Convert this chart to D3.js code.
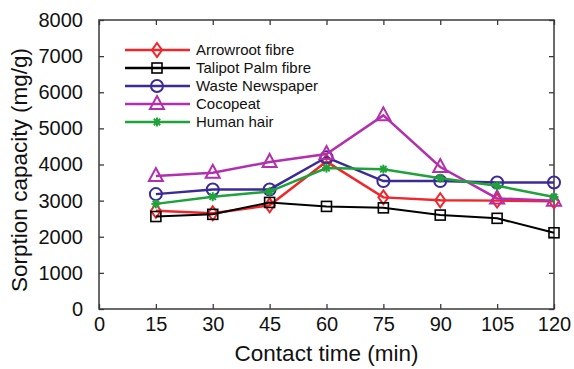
<!DOCTYPE html>
<html>
<head>
<meta charset="utf-8">
<script src="https://cdn.jsdelivr.net/npm/d3@7"></script>
<style>
  body { margin: 0; background: #fff; }
  text { font-family: Arial, "Liberation Sans", sans-serif; }
</style>
</head>
<body>
<div id="chart"></div>
<script>
// contact time (min)
var times = [15, 30, 45, 60, 75, 90, 105, 120];
var xTicks = [0, 15, 30, 45, 60, 75, 90, 105, 120];
var yTicks = [0, 1000, 2000, 3000, 4000, 5000, 6000, 7000, 8000];

var seriesNames = ["Arrowroot fibre", "Talipot Palm fibre", "Waste Newspaper", "Cocopeat", "Human hair"];
var arrowroot = [2720, 2650, 2870, 4080, 3090, 3010, 3000, 2980];
var talipot   = [2560, 2620, 2950, 2840, 2800, 2600, 2510, 2110];
var newspaper = [3180, 3310, 3310, 4200, 3540, 3540, 3500, 3500];
var cocopeat  = [3680, 3770, 4070, 4290, 5360, 3930, 3060, 3000];
var hair      = [2910, 3110, 3250, 3900, 3870, 3620, 3410, 3100];
var colors = ["#f0262a", "#000000", "#3a2b96", "#b32fad", "#1fa23a"];
var symbols = ["diamond", "square", "circle", "triangle", "star"];

var allSeries = [arrowroot, talipot, newspaper, cocopeat, hair];

var W = 574, H = 369;
var mLeft = 99, mRight = 554, mTop = 20, mBottom = 309;

var svg = d3.select("#chart").append("svg")
  .attr("width", W)
  .attr("height", H);

var x = d3.scaleLinear().domain([0, 120]).range([mLeft, mRight]);
var y = d3.scaleLinear().domain([0, 8000]).range([mBottom, mTop]);

var axisColor = "#3a3a3a";

// ticks on all four sides, pointing in
svg.append("g").attr("transform", "translate(0," + mBottom + ")")
  .call(d3.axisBottom(x).tickValues(xTicks).tickSize(-5).tickPadding(8).tickSizeOuter(0))
  .call(function(g){ g.select(".domain").remove(); });
svg.append("g").attr("transform", "translate(0," + mTop + ")")
  .call(d3.axisTop(x).tickValues(xTicks).tickSize(-5).tickFormat("").tickSizeOuter(0))
  .call(function(g){ g.select(".domain").remove(); });
svg.append("g").attr("transform", "translate(" + mLeft + ",0)")
  .call(d3.axisLeft(y).tickValues(yTicks).tickSize(-5).tickPadding(16).tickSizeOuter(0).tickFormat(d3.format("d")))
  .call(function(g){ g.select(".domain").remove(); });
svg.append("g").attr("transform", "translate(" + mRight + ",0)")
  .call(d3.axisRight(y).tickValues(yTicks).tickSize(-5).tickFormat("").tickSizeOuter(0))
  .call(function(g){ g.select(".domain").remove(); });

svg.selectAll(".tick line").attr("stroke", axisColor).attr("stroke-width", 1.3);
svg.selectAll(".tick text").attr("fill", "#111").style("font-size", "20px").style("font-family", "Arial, 'Liberation Sans', sans-serif");

svg.append("rect")
  .attr("x", mLeft).attr("y", mTop)
  .attr("width", mRight - mLeft).attr("height", mBottom - mTop)
  .attr("fill", "none").attr("stroke", axisColor).attr("stroke-width", 1.5);

svg.append("text")
  .attr("x", (mLeft + mRight) / 2).attr("y", 361)
  .attr("text-anchor", "middle")
  .style("font-size", "22.5px").attr("fill", "#111")
  .text("Contact time (min)");

svg.append("text")
  .attr("transform", "translate(27,170) rotate(-90)")
  .attr("text-anchor", "middle")
  .style("font-size", "22.5px").attr("fill", "#111")
  .text("Sorption capacity (mg/g)");

function drawMarker(g, type, color){
  if(type == "diamond"){
    g.append("path").attr("d", "M0,-7L5,0L0,7L-5,0Z");
  }else if(type == "square"){
    g.append("rect").attr("x", -5).attr("y", -5).attr("width", 10).attr("height", 10);
  }else if(type == "circle"){
    g.append("circle").attr("r", 6);
  }else if(type == "triangle"){
    g.append("path").attr("d", "M0,-8L7,5L-7,5Z");
  }else{
    // asterisk
    var r = 4.5;
    for(var k = 0; k < 4; k++){
      var a = k * Math.PI / 4;
      g.append("line")
        .attr("x1", -r * Math.cos(a)).attr("y1", -r * Math.sin(a))
        .attr("x2", r * Math.cos(a)).attr("y2", r * Math.sin(a));
    }
    g.append("circle").attr("r", 2.2).attr("fill", color).attr("stroke", "none");
    return;
  }
  g.selectAll("*").attr("fill", "none");
}

var line = d3.line()
  .x(function(d, i){ return x(times[i]); })
  .y(function(d){ return y(d); });

allSeries.forEach(function(vals, s){
  svg.append("path")
    .datum(vals)
    .attr("d", line)
    .attr("fill", "none")
    .attr("stroke", colors[s])
    .attr("stroke-width", s == 1 ? 2 : 2.5);

  svg.selectAll(".m" + s)
    .data(vals).enter()
    .append("g")
    .attr("class", "m" + s)
    .attr("transform", function(d, i){ return "translate(" + x(times[i]) + "," + y(d) + ")"; })
    .attr("stroke", colors[s])
    .attr("stroke-width", s == 1 ? 1.6 : 2)
    .each(function(){ drawMarker(d3.select(this), symbols[s], colors[s]); });
});

// legend
var legend = svg.append("g");
seriesNames.forEach(function(name, s){
  var ly = 50 + s * 18;
  legend.append("line")
    .attr("x1", 125).attr("x2", 190).attr("y1", ly).attr("y2", ly)
    .attr("stroke", colors[s]).attr("stroke-width", 2.5);
  var mg = legend.append("g")
    .attr("transform", "translate(157," + ly + ")")
    .attr("stroke", colors[s]).attr("stroke-width", s == 1 ? 1.6 : 2);
  drawMarker(mg, symbols[s], colors[s]);
  legend.append("text")
    .attr("x", 196).attr("y", ly + 5)
    .style("font-size", "15px").attr("fill", "#111")
    .text(name);
});
</script>
</body>
</html>
